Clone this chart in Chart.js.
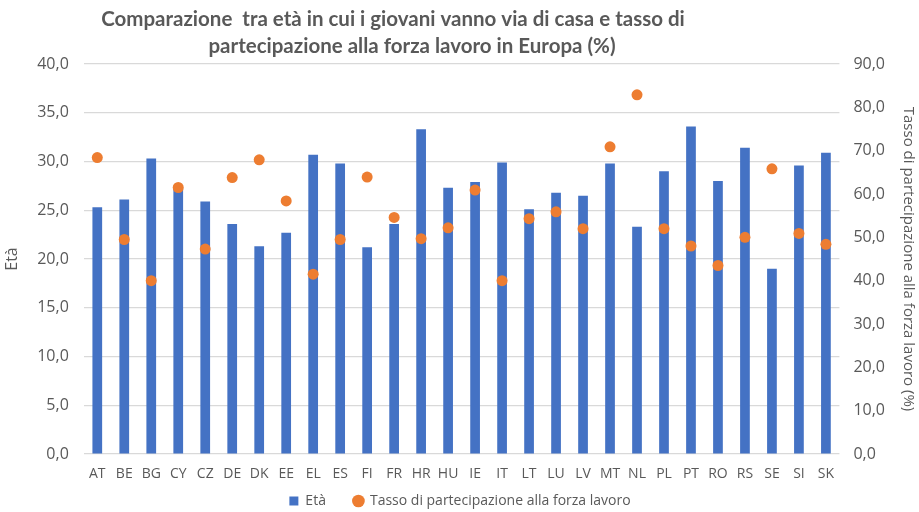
<!DOCTYPE html>
<html>
<head>
<meta charset="utf-8">
<script src="https://cdn.jsdelivr.net/npm/chart.js@4"></script>
<style>
  body { margin: 0; background: #fff; }
  #box { width: 919px; height: 512px; }
</style>
</head>
<body>
<div id="box"><canvas id="myChart"></canvas></div>
<script>
// dati
const paesi = ["AT", "BE", "BG", "CY", "CZ", "DE", "DK", "EE", "EL", "ES", "FI", "FR", "HR", "HU", "IE", "IT", "LT", "LU", "LV", "MT", "NL", "PL", "PT", "RO", "RS", "SE", "SI", "SK"]
const eta = [25.3, 26.1, 30.3, 27.3, 25.9, 23.6, 21.3, 22.7, 30.7, 29.8, 21.2, 23.6, 33.3, 27.3, 27.9, 29.9, 25.1, 26.8, 26.5, 29.8, 23.3, 29.0, 33.6, 28.0, 31.4, 19.0, 29.6, 30.9]
const tasso = [68.4, 49.5, 40.0, 61.5, 47.3, 63.8, 67.9, 58.4, 41.5, 49.5, 63.9, 54.6, 49.7, 52.2, 60.9, 40.0, 54.3, 55.9, 52.0, 70.9, 82.9, 52.0, 48.0, 43.5, 50.0, 65.8, 50.9, 48.4]
const titolo = ["Comparazione  tra età in cui i giovani vanno via di casa e tasso di", "partecipazione alla forza lavoro in Europa (%)"]

const grigio = "#595959"
const fmt = (v) => v.toFixed(1).replace(".", ",")

// titolo disegnato a mano, un po' spostato a sinistra come nell'originale
const titoloPlugin = {
    id: "titolo",
    afterDraw(chart) {
        const ctx = chart.ctx
        ctx.save()
        ctx.fillStyle = grigio
        ctx.font = "bold 20.5px Lato, sans-serif"
        ctx.textAlign = "center"
        ctx.textBaseline = "middle"
        ctx.fillText(titolo[0], 393, 19)
        ctx.fillText(titolo[1], 412, 46)
        ctx.restore()
    }
}

Chart.defaults.font.family = "'Open Sans', sans-serif"
Chart.defaults.color = grigio

// un po' di spazio dopo "Età" nella legenda
const legendaLabels = (chart) => {
    const items = Chart.defaults.plugins.legend.labels.generateLabels(chart)
    items.forEach(it => {
        if (it.text === "Età") it.text = "Età\u2003\u2003"
    })
    return items
}

new Chart(document.getElementById("myChart"), {
    data: {
        labels: paesi,
        datasets: [
            {
                type: "line",
                label: "Tasso di partecipazione alla forza lavoro",
                data: tasso,
                yAxisID: "y1",
                showLine: false,
                pointRadius: 5.5,
                pointHoverRadius: 5.5,
                pointStyle: "circle",
                pointBackgroundColor: "#ED7D31",
                pointBorderWidth: 0,
                backgroundColor: "#ED7D31",
                borderColor: "#ED7D31",
                order: 0
            },
            {
                type: "bar",
                label: "Età",
                data: eta,
                yAxisID: "y",
                backgroundColor: "#4472C4",
                barPercentage: 0.36,
                categoryPercentage: 1,
                pointStyle: "rect",
                order: 1
            }
        ]
    },
    options: {
        responsive: true,
        maintainAspectRatio: false,
        animation: false,
        layout: { padding: { top: 64, left: 3, right: 2, bottom: -6 } },
        plugins: {
            title: { display: false },
            tooltip: { enabled: false },
            legend: {
                position: "bottom",
                reverse: true,
                labels: {
                    usePointStyle: true,
                    boxWidth: 9,
                    boxHeight: 9,
                    padding: 0,
                    font: { size: 14 },
                    color: grigio,
                    generateLabels: legendaLabels
                }
            }
        },
        scales: {
            x: {
                grid: { display: false, drawTicks: false },
                border: { display: false },
                ticks: { font: { size: 14, lineHeight: 1 }, color: grigio, maxRotation: 0, autoSkip: false, padding: 13 }
            },
            y: {
                position: "left",
                min: 0,
                max: 40,
                ticks: { stepSize: 5, callback: fmt, font: { size: 16 }, color: grigio, padding: 15 },
                grid: { color: "#d9d9d9", lineWidth: 1.2, drawTicks: false },
                border: { display: false },
                title: { display: true, text: "Età", font: { size: 16 }, color: grigio, padding: 0 }
            },
            y1: {
                position: "right",
                min: 0,
                max: 90,
                ticks: { stepSize: 10, callback: fmt, font: { size: 16 }, color: grigio, padding: 14 },
                grid: { display: false, drawTicks: false },
                border: { display: false },
                title: { display: true, text: "Tasso di partecipazione alla forza lavoro (%)", font: { size: 15 }, color: grigio, padding: 0 }
            }
        }
    },
    plugins: [titoloPlugin]
})
</script>
</body>
</html>
